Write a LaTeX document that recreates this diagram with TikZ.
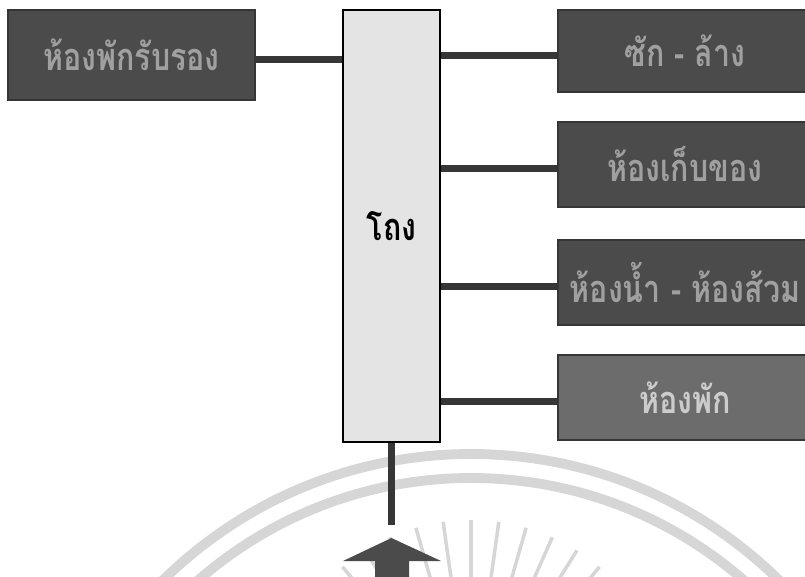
\documentclass[tikz,border=0pt]{standalone}
\usepackage{fontspec}
\newfontfamily\thaifont[Script=Thai, FakeStretch=0.8]{Loma}
\usepackage{tikz}
\usetikzlibrary{positioning}
\definecolor{roomdark}{HTML}{4B4B4B}
\definecolor{roommid}{HTML}{6C6C6C}
\definecolor{roomtext}{HTML}{A0A0A0}
\definecolor{hallfill}{HTML}{E4E4E4}
\definecolor{linkgray}{HTML}{363636}
\definecolor{sealgray}{HTML}{D6D6D6}
\tikzstyle{room} = [rectangle, fill=roomdark, draw=linkgray, line width=0.8pt, inner sep=0pt, minimum width=6.35cm, minimum height=2.125cm, text=roomtext, font=\thaifont\bfseries\fontsize{27}{29}\selectfont]
\tikzstyle{hallbox} = [rectangle, fill=hallfill, draw=black, line width=1.2pt, inner sep=0pt, minimum width=2.425cm, minimum height=10.8cm, font=\thaifont\bfseries\fontsize{27}{29}\selectfont]
\tikzstyle{link} = [draw=linkgray, line width=5pt]
\tikzstyle{seal} = [draw=sealgray, line width=7pt]
\tikzstyle{sealray} = [draw=sealgray, line width=2.5pt]

\begin{document}
\begin{tikzpicture}[x=0.025cm, y=-0.025cm]
    \useasboundingbox (0,0) rectangle (805,577);

    % Watermark
    \draw[seal] (471,893) circle[radius=439];
    \draw[seal] (471,893) circle[radius=415];
    \foreach \k in {-10,...,10}
        \draw[sealray] (471,720) ++({270+8*\k}:95) -- ++({270+8*\k}:105);

    % Rooms
    \node (hall) [hallbox] at (391.5,226) {โถง};
    \node (lounge) [room, minimum width=6.175cm, minimum height=2.25cm] at (131.5,55) {ห้องพักรับรอง};
    \node (laundry) [room, minimum height=2.05cm] at (685,51) {ซัก - ล้าง};
    \node (store) [room] at (685,164.5) {ห้องเก็บของ};
    \node (toilet) [room] at (685,282.5) {ห้องน้ำ - ห้องส้วม};
    \node (bedroom) [room, fill=roommid, text=gray!40] at (685,397.5) {ห้องพัก};

    % Edges
    \draw[link] ([yshift=-3pt]lounge.east) -- ([yshift=-3pt]lounge.east -| hall.west);
    \draw[link] ([yshift=-3pt]hall.east |- laundry.west) -- ([yshift=-3pt]laundry.west);
    \draw[link] ([yshift=-3pt]hall.east |- store.west) -- ([yshift=-3pt]store.west);
    \draw[link] ([yshift=-3pt]hall.east |- toilet.west) -- ([yshift=-3pt]toilet.west);
    \draw[link] ([yshift=-3pt]hall.east |- bedroom.west) -- ([yshift=-3pt]bedroom.west);

    % Entrance
    \coordinate (entry) at (391.5,525);
    \draw[link] (hall.south) -- (entry);
    \fill[roomdark] (391.5,538) -- (441,561) -- (409,561) -- (409,590)
        -- (375,590) -- (375,561) -- (343,561) -- cycle;
\end{tikzpicture}
\end{document}
